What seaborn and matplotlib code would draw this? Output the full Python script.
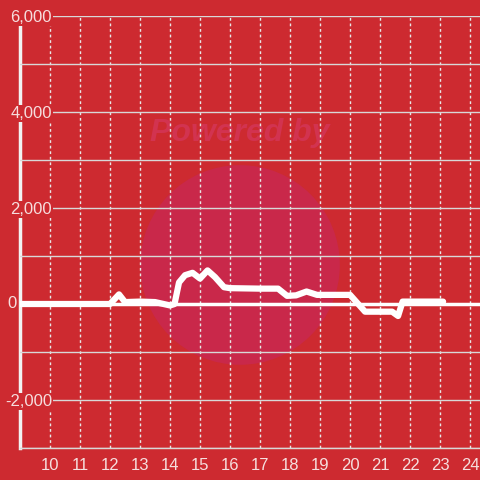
import pandas as pd
import matplotlib.pyplot as plt
import seaborn as sns
from matplotlib.patches import Circle
from matplotlib.ticker import FuncFormatter, MultipleLocator

# valores
horas = [9, 12.0, 12.3, 12.5, 13.0, 13.5, 14.0, 14.15, 14.3, 14.5, 14.75, 15.0,
         15.25, 15.5, 15.8, 16.0, 17.0, 17.6, 17.9, 18.2, 18.55, 18.9, 20.0,
         20.5, 21.4, 21.6, 21.75, 23.1]
valores = [0, 0, 200, 40, 50, 40, -30, 0, 450, 600, 650, 530,
           700, 560, 350, 330, 320, 320, 170, 180, 260, 190, 190,
           -160, -160, -250, 50, 50]
x_ticks = list(range(10, 25))
y_ticks = [-2000, 0, 2000, 4000, 6000]

fundo = '#cd2a30'
texto = '#f6dede'

dados = pd.DataFrame({'hora': horas, 'valor': valores})

sns.set_theme(style="white")
plt.rcParams['font.family'] = ['Liberation Sans', 'DejaVu Sans']

fig = plt.figure(figsize=(4.8, 4.8), dpi=100, facecolor=fundo)
ax = fig.add_axes([20/480, 32/480, 460/480, 432/480])
ax.set_facecolor(fundo)

# marca d'água (atrás de tudo)
ax.add_patch(Circle((0.5, 0.448), 0.208, transform=fig.transFigure,
                    facecolor='#c9284a', edgecolor='none', zorder=0.1, clip_on=False))
ax.text(0.5, 0.723, 'Powered by', transform=fig.transFigure, ha='center', va='center',
        fontsize=23, fontweight='bold', fontstyle='italic', color='#d23350', zorder=0.2)

ax.set_xlim(9, 24.33)
ax.set_ylim(-3000, 6000)

ax.axhline(0, color='white', lw=2.5, zorder=3)
sns.lineplot(x='hora', y='valor', data=dados, color='white', lw=4.5, ax=ax, zorder=4)

ax.set_xticks(x_ticks)
ax.set_yticks(y_ticks)
ax.yaxis.set_minor_locator(MultipleLocator(1000))
# o "0" fica à esquerda do eixo, fora da linha
ax.yaxis.set_major_formatter(FuncFormatter(lambda v, p: '' if v == 0 else f'{int(v):,}'))
fig.text(0.024, 1 - 304/480, '0', ha='center', va='center', fontsize=12, color=texto)

ax.grid(which='both', axis='y', color='#d8d8d8', lw=1, ls='-', zorder=1)
ax.grid(which='major', axis='x', color='#e8e8e8', lw=1, ls=(0, (2, 2)), zorder=1)
ax.set_axisbelow(False)

ax.tick_params(axis='x', length=0, colors=texto, labelsize=12, pad=7)
ax.tick_params(axis='y', which='both', length=0, colors=texto, labelsize=12, pad=-23)
for lbl in ax.get_yticklabels():
    if lbl.get_text():
        lbl.set_bbox(dict(facecolor=fundo, edgecolor='none', pad=1))
    lbl.set_zorder(5)

for s in ['top', 'right']:
    ax.spines[s].set_visible(False)
ax.spines['left'].set_color('#f2f2f2')
ax.spines['left'].set_linewidth(2.5)
ax.spines['bottom'].set_color('#d8d8d8')
ax.spines['bottom'].set_linewidth(1)

ax.set_xlabel('')
ax.set_ylabel('')

plt.savefig('out.png', dpi=100, facecolor=fundo)
